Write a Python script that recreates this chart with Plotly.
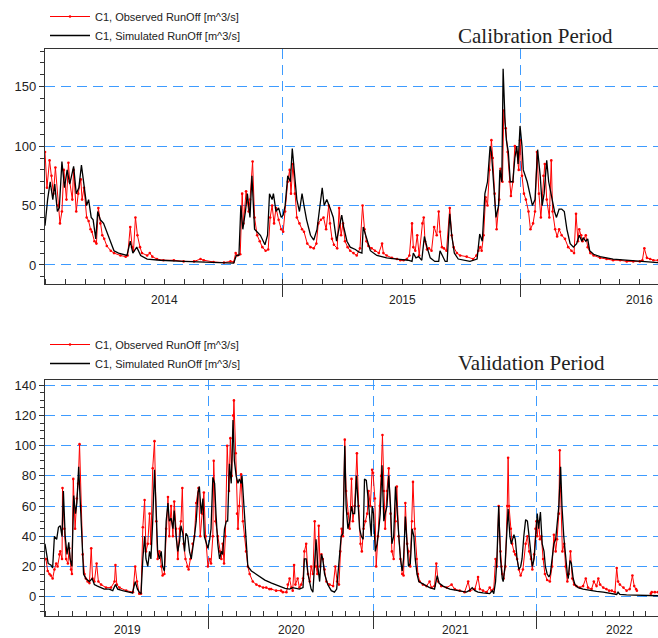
import pandas as pd
import plotly.graph_objects as go

# ---------------- data ----------------
cal_start = "2013-07-01"
val_start = "2018-07-01"
obs_name = "C1, Observed RunOff [m^3/s]"
sim_name = "C1, Simulated RunOff [m^3/s]"

# Calibration period: days since 2013-07-01
cal_obs_day = [0, 3, 7, 10, 13, 16, 20, 23, 26, 29, 33, 36, 38, 42, 44, 48, 51, 55, 57, 60, 64, 67, 70, 72, 76, 79,
               82, 85, 88, 91, 95, 101, 106, 116, 124, 127, 131, 134, 136, 139, 142, 146, 149, 157, 161, 165, 172,
               182, 198, 213, 229, 239, 244, 259, 275, 285, 290, 293, 296, 300, 303, 305, 309, 313, 315, 319, 322,
               326, 330, 334, 339, 343, 346, 349, 352, 355, 359, 363, 366, 369, 373, 376, 378, 381, 384, 387, 391,
               395, 398, 403, 408, 413, 417, 420, 424, 428, 432, 436, 438, 441, 444, 449, 452, 455, 458, 461, 465,
               469, 474, 479, 484, 488, 491, 494, 497, 502, 507, 513, 518, 520, 525, 533, 541, 546, 551, 556, 560,
               564, 566, 569, 572, 575, 580, 582, 584, 587, 590, 594, 598, 602, 605, 607, 610, 613, 617, 622, 625,
               628, 633, 638, 648, 658, 663, 666, 669, 671, 674, 677, 680, 683, 686, 688, 691, 694, 698, 700, 703,
               705, 708, 711, 714, 716, 719, 722, 725, 728, 730, 733, 736, 739, 743, 746, 750, 753, 756, 759, 762,
               766, 768, 771, 775, 778, 780, 784, 787, 790, 794, 799, 804, 809, 813, 816, 819, 821, 824, 826, 831,
               834, 838, 843, 853, 863, 873, 884, 894, 904, 914, 918, 921, 925, 930, 935, 942]
cal_obs_val = [95, 65, 88, 75, 60, 82, 50, 35, 45, 80, 55, 86, 70, 55, 80, 45, 60, 72, 55, 65, 40, 37, 30, 28, 20, 18,
               48, 35, 25, 22, 16, 12, 10, 8, 7, 8, 32, 15, 12, 40, 25, 15, 10, 8, 10, 7, 5,
               4, 4, 3, 3, 5, 4, 2.5, 2, 3, 2.5, 10, 8, 9, 60, 35, 62, 45, 55, 87, 40,
               25, 20, 15, 12, 13, 40, 50, 35, 48, 38, 30, 28, 45, 70, 80, 60, 85, 60, 40, 35,
               30, 28, 18, 15, 14, 18, 35, 38, 40, 30, 50, 35, 22, 17, 14, 48, 25, 35, 20, 15,
               12, 10, 8, 14, 50, 30, 20, 16, 14, 12, 10, 18, 10, 8, 6, 5, 4, 4, 5, 8,
               35, 15, 12, 25, 8, 35, 40, 20, 13, 14, 12, 32, 25, 45, 28, 15, 14, 12, 48, 25,
               15, 10, 8, 7, 5, 8, 12, 15, 12, 25, 57, 50, 80, 105, 90, 60, 30, 55, 81, 70,
               130, 115, 95, 70, 58, 70, 100, 95, 80, 105, 75, 60, 55, 45, 30, 35, 45, 95, 60, 40,
               75, 85, 55, 40, 88, 45, 30, 24, 30, 25, 22, 15, 12, 10, 43, 20, 30, 25, 20, 25,
               15, 10, 8, 6, 5, 4, 4, 3, 3, 3, 4, 14, 6, 5, 4, 4]

cal_sim_day = [0, 4, 8, 12, 15, 19, 22, 26, 30, 34, 38, 41, 44, 48, 52, 56, 60, 64, 67, 71, 74, 78, 81, 85, 90, 95,
               101, 106, 113, 120, 126, 131, 135, 141, 147, 157, 177, 213, 249, 290, 294, 298, 301, 304, 308, 311,
               315, 318, 322, 326, 331, 338, 342, 345, 349, 351, 355, 359, 363, 366, 369, 373, 377, 380, 384, 387,
               391, 395, 398, 402, 408, 413, 418, 422, 426, 429, 433, 438, 443, 448, 452, 456, 459, 464, 469, 477,
               482, 487, 489, 495, 500, 510, 525, 541, 558, 564, 566, 570, 574, 579, 583, 587, 592, 599, 605, 607,
               611, 615, 618, 622, 625, 629, 635, 653, 664, 668, 672, 676, 680, 684, 686, 689, 693, 697, 699, 702,
               704, 707, 709, 712, 715, 719, 722, 725, 727, 730, 733, 735, 738, 741, 745, 749, 753, 757, 761, 764,
               767, 771, 774, 779, 783, 786, 790, 794, 798, 802, 807, 812, 817, 821, 825, 827, 831, 834, 837, 843,
               853, 873, 894, 914, 935, 942]
cal_sim_val = [33, 55, 70, 55, 68, 45, 48, 87, 65, 80, 68, 75, 83, 60, 65, 84, 65, 50, 55, 40, 38, 22, 45, 38, 35, 28,
               18, 12, 10, 9, 8, 20, 10, 15, 8, 5, 4, 3, 2, 1.5, 8, 8, 50, 30, 45, 60,
               40, 75, 30, 28, 25, 17, 25, 60, 55, 60, 45, 48, 40, 42, 50, 75, 70, 98, 70, 55,
               45, 60, 50, 38, 25, 21, 30, 50, 65, 50, 55, 48, 40, 20, 30, 42, 32, 20, 15, 13,
               11, 10, 32, 20, 12, 8, 6, 5, 4, 3, 10, 6, 7, 4, 24, 15, 6, 3, 3, 12,
               8, 3, 3, 43, 25, 10, 5, 3, 5, 26, 20, 60, 70, 100, 95, 70, 40, 50, 80, 70,
               165, 120, 105, 95, 70, 70, 90, 100, 85, 117, 100, 80, 75, 70, 60, 50, 55, 97, 75, 50,
               60, 88, 70, 55, 45, 40, 47, 47, 45, 30, 18, 15, 18, 25, 20, 23, 20, 22, 12, 9,
               7, 5, 4, 3, 2, 2]

# Validation period: days since 2018-07-01 (None = missing observation)
val_obs_day = [0, 2, 6, 10, 13, 17, 21, 25, 28, 32, 34, 38, 39, 43, 47, 51, 54, 58, 60, 63, 67, 71, 74, 77, 80, 84,
               88, 91, 95, 99, 103, 106, 110, 115, 119, 125, 136, 147, 155, 157, 160, 166, 181, 196, 201, 205,
               210, 214, 218, 222, 225, 229, 233, 236, 240, 244, 248, 251, 255, 259, 262, 266, 270, 274, 277, 281,
               285, 288, 292, 296, 300, 303, 306, 309, 313, 317, 320, 324, 329, 333, 337, 342, 346, 350, 354, 358,
               363, 367, 370, 374, 376, 380, 385, 389, 393, 396, 399, 402, 406, 410, 413, 416, 419, 421, 425, 428,
               430, 433, 437, 441, 445, 448, 452, 456, 463, 471, 478, 486, 493, 500, 504, 515, 526, 530, 538, 541,
               545, 549, 552, 555, 558, 563, 567, 571, 575, 578, 582, 586, 590, 593, 597, 601, 604, 607, 610, 613,
               616, 619, 623, 627, 634, 642, 647, 651, 655, 658, 661, 664, 668, 671, 675, 679, 683, 686, 690, 695,
               699, 703, 706, 710, 714, 718, 721, 725, 729, 731, 735, 738, 742, 746, 749, 752, 755, 758, 762, 766,
               770, 773, 777, 781, 784, 788, 792, 796, 799, 803, 807, 810, 814, 818, 820, 824, 828, 831, 835, 842,
               850, 857, 861, 868, 872, 876, 883, 895, 906, 913, 924, 935, 943, 947, 958, 965, 969, 976, 984, 991,
               995, 1000, 1004, 1007, 1011, 1015, 1017, 1019, 1022, 1026, 1030, 1032, 1034, 1038, 1041, 1045, 1048,
               1052, 1056, 1060, 1065, 1071, 1075, 1079, 1083, 1086, 1090, 1093, 1095, 1097, 1100, 1103, 1106, 1110,
               1114, 1119, 1125, 1130, 1134, 1138, 1141, 1145, 1147, 1149, 1153, 1157, 1160, 1164, 1167, 1171, 1175,
               1179, 1184, 1192, 1199, 1205, 1210, 1218, 1223, 1229, 1233, 1237, 1244, 1251, 1257, 1263, 1270, 1274,
               1277, 1281, 1289, 1296, 1303, 1309, 1313, 1317, 1319, 1335, 1350, 1352, 1359, 1366]
val_obs_val = [25, 25, 17, 15, 14, 12, 18, 22, 20, 28, 30, 25, 72, 45, 25, 22, 32, 18, 15, 78, 45, 65, 75, 101, 60, 28,
               15, 12, 10, 9, 32, 12, 10, 22, 10, 8, 6, 6, 10, 21, 8, 6, 4, 3, 20, 10,
               2, 2, 46, 64, 30, 35, 55, 35, 85, 103, 50, 25, 30, 20, 14, 15, 45, 66, 40, 60,
               40, 63, 45, 25, 45, 50, 72, 35, 25, 20, 18, 25, 35, 40, 62, 72, 40, 55, 69, 40,
               20, 25, 22, 40, 90, 50, 40, 30, 25, 35, 22, 40, 100, 70, 105, 80, 120, 130, 95, 55,
               45, 60, 81, 50, 40, 30, 20, 15, 10, 8, 7, 6, 6, 5, 5, 4, 4, 3, 3, 8,
               12, 6, 4, 21, 8, 12, 6, 8, 12, 30, 35, 15, 10, 20, 15, 50, 20, 15, 47, 20,
               28, 25, 18, 10, 8, 7, 20, 10, 8, 30, 45, 40, 104, 70, 55, 45, 78, 50, 60, 95,
               60, 35, 30, 45, 50, 55, 70, 60, 84, 82, 65, 20, 40, 60, 80, 107, 70, 45, 70, 85,
               55, 30, 25, 50, 73, 40, 25, 15, 14, 62, 35, 30, 20, 50, 76, 45, 25, 15, 10, 8,
               7, 10, 6, 7, 22, 10, 7, 6, 8, 5, 4, 3, 10, 4, 5, 13, 5, 4, 3, 6,
               4, 5, 25, 20, 60, 30, 20, 15, 12, 20, 60, 92, 60, 45, 35, 30, 28,
               25, 18, 14, 18, 35, 40, 30, 25, 18, 28, 45, 50, 40, 50, 38, 40, 25,
               15, 11, 10, 20, 41, 30, 38, 55, 97, 70, 30, 35, 20, 10, 15, 30, 12,
               8, 7, 6, 7, 12, 6, 5, 10, 7, 12, 8, 6, 5, 4, 4, 3, 19,
               10, 8, 6, 4, 5, 14, 7, 5, 4, None, 2, 3, 3, 3]

val_sim_day = [0, 4, 7, 13, 17, 21, 26, 30, 34, 38, 41, 45, 49, 53, 56, 60, 64, 68, 71, 75, 79, 83, 86, 91, 99, 105,
               110, 117, 125, 132, 143, 151, 157, 162, 173, 184, 195, 201, 206, 210, 214, 218, 222, 225, 229, 233,
               236, 240, 244, 248, 251, 255, 259, 262, 266, 270, 274, 277, 281, 285, 288, 292, 296, 300, 303, 307,
               311, 314, 318, 322, 326, 333, 337, 341, 344, 348, 352, 355, 359, 363, 367, 370, 374, 378, 381, 385,
               389, 393, 396, 400, 404, 407, 411, 415, 419, 422, 426, 430, 433, 437, 439, 443, 448, 452, 460, 475,
               490, 505, 520, 535, 545, 552, 567, 575, 578, 582, 586, 593, 597, 601, 604, 608, 612, 616, 619, 623,
               630, 638, 645, 650, 655, 660, 664, 668, 671, 675, 679, 683, 686, 690, 694, 697, 701, 705, 709, 712,
               716, 720, 723, 727, 729, 732, 736, 740, 744, 747, 751, 755, 758, 762, 766, 770, 773, 777, 781, 784,
               788, 792, 796, 799, 803, 807, 810, 814, 818, 822, 825, 829, 833, 839, 846, 857, 868, 874, 878, 887,
               902, 917, 932, 939, 945, 952, 958, 965, 976, 991, 997, 1000, 1004, 1007, 1011, 1015, 1019, 1021, 1025,
               1028, 1032, 1036, 1039, 1045, 1048, 1052, 1056, 1060, 1063, 1067, 1071, 1075, 1079, 1083, 1086, 1090,
               1094, 1097, 1100, 1104, 1108, 1112, 1115, 1119, 1123, 1126, 1130, 1134, 1138, 1141, 1145, 1149, 1152,
               1156, 1160, 1164, 1166, 1170, 1173, 1177, 1181, 1188, 1199, 1214, 1229, 1244, 1259, 1274, 1277, 1281,
               1296, 1311, 1326, 1341, 1366]
val_sim_val = [35, 28, 22, 21, 19, 40, 38, 46, 47, 40, 70, 40, 28, 36, 25, 20, 67, 55, 62, 86, 60, 30, 15, 12, 10, 12,
               8, 7, 6, 5, 5, 4, 8, 5, 4, 3, 2.5, 10, 5, 3, 2, 25, 40, 25, 20, 30,
               25, 50, 84, 55, 30, 25, 30, 20, 17, 50, 62, 50, 52, 45, 57, 40, 30, 37, 47, 42,
               30, 42, 40, 30, 25, 40, 50, 69, 73, 55, 65, 40, 35, 32, 38, 45, 79, 75, 55, 35,
               25, 30, 28, 45, 50, 50, 88, 75, 117, 90, 80, 75, 78, 75, 80, 60, 35, 20, 17, 14,
               11, 9, 7, 5.5, 5, 6, 5, 6, 25, 25, 15, 5, 3, 25, 38, 20, 10, 28, 25, 15,
               8, 4, 3, 5, 20, 40, 42, 100, 60, 45, 50, 60, 55, 55, 80, 65, 45, 40, 38, 78,
               77, 65, 55, 40, 60, 55, 30, 35, 45, 55, 87, 50, 55, 60, 80, 60, 35, 40, 73, 60,
               40, 25, 17, 25, 53, 30, 20, 22, 45, 40, 25, 15, 10, 9, 8, 6, 5, 14, 9, 7,
               5, 4, 3, 3, 4, 6, 4, 3, 2.5, 2, 4, 2, 10, 25, 60, 25, 12, 10, 20,
               40, 58, 40, 35, 41, 38, 25, 18, 20, 25, 40, 51, 50, 38, 25, 20, 25,
               40, 55, 45, 56, 35, 30, 20, 15, 13, 15, 25, 35, 38, 50, 60, 86, 60,
               40, 25, 15, 12, 24, 22, 12, 8, 6, 5, 4, 3.5, 3, 2.5, 1.5, 3, 1.5,
               1.2, 1, 0.8, 0.7, 0.6]

cal_grid_dates = ["2014-07-01", "2015-07-01"]
val_grid_dates = ["2019-07-01", "2020-07-01", "2021-07-01"]
cal_years = ["2014", "2015", "2016"]
val_years = ["2019", "2020", "2021", "2022"]

# ---------------- helpers ----------------
def to_dates(start, days):
    return pd.Timestamp(start) + pd.to_timedelta(days, unit="D")

GRID = "#3d9bff"
AX = "#333333"
FONT = "Liberation Sans, Arial, sans-serif"
SERIF = "Liberation Serif, Times New Roman, serif"

fig = go.Figure()

fig.add_trace(go.Scatter(x=to_dates(cal_start, cal_obs_day), y=cal_obs_val, name=obs_name,
                         mode="lines+markers", line=dict(color="#ff0000", width=1),
                         marker=dict(color="#ff0000", size=2.6), legend="legend",
                         xaxis="x", yaxis="y"))
fig.add_trace(go.Scatter(x=to_dates(cal_start, cal_sim_day), y=cal_sim_val, name=sim_name,
                         mode="lines", line=dict(color="#000000", width=1.3), legend="legend",
                         xaxis="x", yaxis="y"))
fig.add_trace(go.Scatter(x=to_dates(val_start, val_obs_day), y=val_obs_val, name=obs_name,
                         mode="lines+markers", line=dict(color="#ff0000", width=1),
                         marker=dict(color="#ff0000", size=2.6), legend="legend2",
                         xaxis="x2", yaxis="y2"))
fig.add_trace(go.Scatter(x=to_dates(val_start, val_sim_day), y=val_sim_val, name=sim_name,
                         mode="lines", line=dict(color="#000000", width=1.3), legend="legend2",
                         xaxis="x2", yaxis="y2"))

top_dom = [1 - 284 / 638, 1 - 49 / 638]
bot_dom = [1 - 616 / 638, 1 - 380 / 638]


def xaxis_cfg(anchor, rng, grid_dates, tick0):
    return dict(domain=[0, 1], anchor=anchor, type="date", range=rng,
                tickvals=grid_dates, ticktext=[""] * len(grid_dates),
                ticks="outside", ticklen=12, tickcolor=AX, tickwidth=1.2,
                showgrid=True, gridcolor=GRID, griddash="10px,6px", gridwidth=1.3,
                showline=True, linecolor=AX, linewidth=1.3, mirror=True,
                zeroline=False, automargin=False,
                minor=dict(ticks="inside", ticklen=5, tickcolor=AX, tickwidth=1,
                           dtick="M1", tick0=tick0, showgrid=False))


def yaxis_cfg(anchor, dom, rng, mdtick, vals):
    return dict(domain=dom, anchor=anchor, range=rng, tickvals=vals,
                ticks="outside", ticklen=5, tickcolor=AX, tickwidth=1,
                showgrid=True, gridcolor=GRID, griddash="10px,6px", gridwidth=1.3,
                showline=True, linecolor=AX, linewidth=1.3, zeroline=False,
                automargin=False, tickfont=dict(size=13, color="#222", family=FONT),
                minor=dict(ticks="outside", ticklen=4, tickcolor=AX, dtick=mdtick, tick0=0,
                           showgrid=False))


annotations = []
for yr in cal_years:
    annotations.append(dict(x=f"{yr}-01-01", xref="x", y=top_dom[0], yref="paper", yanchor="top",
                            yshift=-7, text=yr, showarrow=False,
                            font=dict(size=12, color="#222", family=FONT)))
for yr in val_years:
    annotations.append(dict(x=f"{yr}-01-01", xref="x2", y=bot_dom[0], yref="paper", yanchor="top",
                            yshift=-5, text=yr, showarrow=False,
                            font=dict(size=12, color="#222", family=FONT)))
annotations.append(dict(x=(535 - 45) / 613, xref="paper", y=1 - 36 / 638, yref="paper",
                        xanchor="center", yanchor="middle", text="Calibration Period", showarrow=False,
                        font=dict(size=21, color="#222", family=SERIF)))
annotations.append(dict(x=(531 - 45) / 613, xref="paper", y=1 - 363 / 638, yref="paper",
                        xanchor="center", yanchor="middle", text="Validation Period", showarrow=False,
                        font=dict(size=21, color="#222", family=SERIF)))

fig.update_layout(
    width=658, height=638,
    margin=dict(l=45, r=0, t=0, b=0),
    paper_bgcolor="white", plot_bgcolor="white",
    font=dict(family=FONT, size=11, color="#222"),
    xaxis=xaxis_cfg("y", ["2013-07-01", "2016-01-29"], cal_grid_dates, "2013-07-01"),
    yaxis=yaxis_cfg("x", top_dom, [-16, 181.7], 10, [0, 50, 100, 150]),
    xaxis2=xaxis_cfg("y2", ["2018-07-01", "2022-03-28"], val_grid_dates, "2018-07-01"),
    yaxis2=yaxis_cfg("x2", bot_dom, [-12.8, 143.5], 5, [0, 20, 40, 60, 80, 100, 120, 140]),
    legend=dict(x=0, y=1 - 2 / 638, xanchor="left", yanchor="top", bgcolor="rgba(0,0,0,0)",
                font=dict(size=11, family=FONT, color="#222"), itemwidth=40, tracegroupgap=0),
    legend2=dict(x=0, y=1 - 330 / 638, xanchor="left", yanchor="top", bgcolor="rgba(0,0,0,0)",
                 font=dict(size=11, family=FONT, color="#222"), itemwidth=40, tracegroupgap=0),
    annotations=annotations,
    showlegend=True,
)

fig.write_html("out.html", config={"displayModeBar": False},
               post_script="document.body.style.margin='0px';")
